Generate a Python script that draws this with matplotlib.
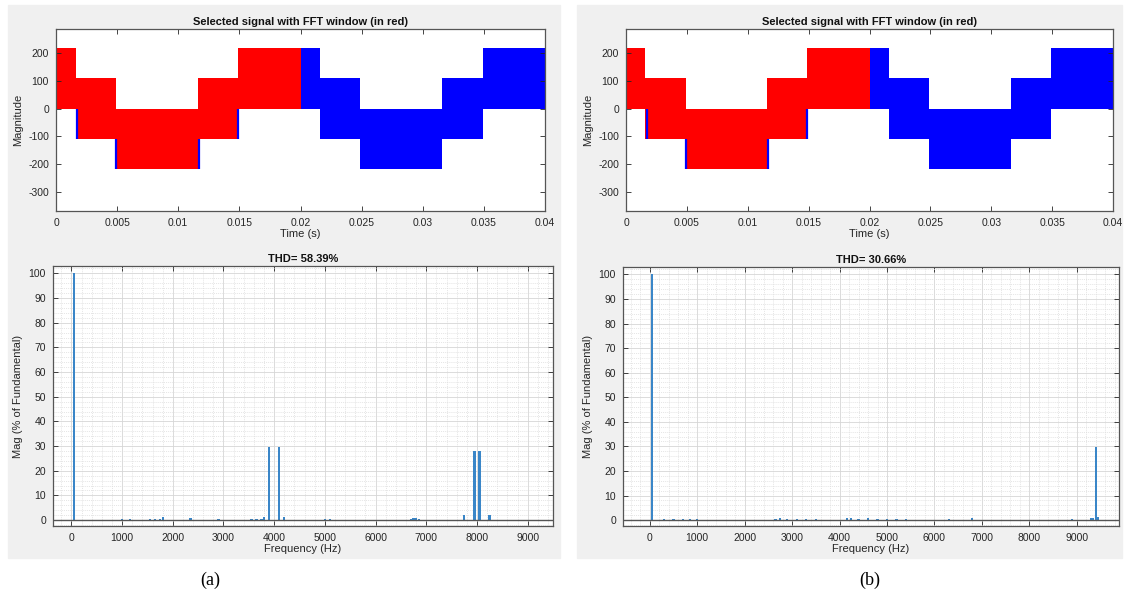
import numpy as np
import matplotlib
matplotlib.use("Agg")
import matplotlib.pyplot as plt
from matplotlib.patches import Rectangle
from matplotlib.ticker import MultipleLocator

plt.rcParams['font.family'] = ['Liberation Sans', 'DejaVu Sans']
plt.rcParams['axes.unicode_minus'] = False

# stepped inverter output (both cases look the same in the time domain)
step_t = [0, 0.0016, 0.0049, 0.0116, 0.0149, 0.02, 0.0216, 0.0249, 0.0316, 0.0349, 0.04]
step_hi = [220, 110, 0, 110, 220, 220, 110, 0, 110, 220]
step_lo = [0, -110, -220, -110, 0, 0, -110, -220, -110, 0]
window_end = 0.02

# little blue slivers visible at the red window transitions
sliver_t = [0.0017, 0.0049, 0.0117, 0.0149]
sliver_lo = [-110, -220, -220, -110]
sliver_hi = [0, -110, -110, 0]

# harmonic spectra (% of fundamental)
freq_a = [50, 1000, 1150, 1550, 1650, 1750, 1800, 2350, 2900, 3550, 3650, 3750, 3800,
          3900, 4100, 4200, 5000, 5100, 6700, 6750, 6800, 6850, 7750, 7950, 8050, 8250]
mag_a = [100, 0.4, 0.4, 0.4, 0.5, 0.5, 1.3, 0.8, 0.3, 0.5, 0.5, 0.6, 1.3,
         29.5, 29.5, 1.3, 0.5, 0.4, 0.6, 0.7, 0.7, 0.6, 2.0, 28.2, 28.2, 2.2]
thd_a = "THD= 58.39%"

freq_b = [50, 300, 500, 700, 850, 1000, 2650, 2750, 2900, 3100, 3300, 3500, 4150, 4250,
          4400, 4600, 4800, 5000, 5200, 5400, 6300, 6800, 8900, 9300, 9350, 9400, 9450]
mag_b = [100, 0.5, 0.5, 0.6, 0.5, 0.4, 0.6, 0.9, 0.6, 0.5, 0.6, 0.5, 1.0, 0.7,
         0.6, 0.7, 0.6, 0.5, 0.5, 0.4, 0.5, 0.9, 0.4, 0.8, 1.0, 29.8, 1.2]
thd_b = "THD= 30.66%"

time_ticks = [0, 0.005, 0.01, 0.015, 0.02, 0.025, 0.03, 0.035, 0.04]
time_labels = ["0", "0.005", "0.01", "0.015", "0.02", "0.025", "0.03", "0.035", "0.04"]

W, H = 1128, 602
fig = plt.figure(figsize=(W / 100, H / 100), dpi=100)
fig.patch.set_facecolor('white')

AX_COL = '#262626'
BAR_COL = '#3a86c8'


def px_axes(l, t, r, b):
    return fig.add_axes([l / W, 1 - b / H, (r - l) / W, (b - t) / H])


def style(ax):
    ax.tick_params(direction='in', top=True, right=True, length=3.5, width=0.6,
                   labelsize=7.5, colors=AX_COL, pad=5)
    for s in ax.spines.values():
        s.set_color('#555555')
        s.set_linewidth(0.9)


def draw_wave(ax):
    t = np.array(step_t)
    hi = np.append(step_hi, step_hi[-1])
    lo = np.append(step_lo, step_lo[-1])
    ax.fill_between(t, lo, hi, step='post', color='#0000ff', lw=0)
    win = t <= window_end
    ax.fill_between(t[win], lo[win], hi[win], step='post', color='#ff0000', lw=0)
    ax.vlines(sliver_t, sliver_lo, sliver_hi, color='#0000ff', lw=1.6)
    ax.set_xlim(0, 0.04)
    ax.set_ylim(-370, 287)
    ax.set_xticks(time_ticks)
    ax.set_xticklabels(time_labels)
    ax.set_yticks([-300, -200, -100, 0, 100, 200])
    ax.set_title("Selected signal with FFT window (in red)", fontsize=8, fontweight='bold',
                 color='#111111', pad=3)
    ax.set_xlabel("Time (s)", fontsize=8, color=AX_COL, labelpad=1)
    ax.set_ylabel("Magnitude", fontsize=8, color=AX_COL, labelpad=4)
    style(ax)


def draw_fft(ax, freq, mag, title, xmin, xmax):
    ax.set_axisbelow(True)
    ax.bar(freq, mag, width=45, color=BAR_COL, lw=0, zorder=3)
    ax.axhline(0, color='#555555', lw=1.0, zorder=4)
    ax.set_xlim(xmin, xmax)
    ax.set_ylim(-2.4, 103)
    ax.set_xticks(range(0, 9001, 1000))
    ax.set_yticks(range(0, 101, 10))
    ax.xaxis.set_minor_locator(MultipleLocator(200))
    ax.yaxis.set_minor_locator(MultipleLocator(2))
    ax.grid(which='major', color='#d6d6d6', lw=0.6)
    ax.grid(which='minor', color='#dcdcdc', lw=0.5, ls=(0, (1.5, 1.5)))
    ax.tick_params(which='minor', length=0)
    ax.set_title(title, fontsize=8, fontweight='bold', color='#111111', pad=3)
    ax.set_xlabel("Frequency (Hz)", fontsize=8, color=AX_COL, labelpad=1)
    ax.set_ylabel("Mag (% of Fundamental)", fontsize=8, color=AX_COL, labelpad=4)
    style(ax)


# gray MATLAB figure backgrounds
for l, r in [(8, 560), (577, 1122)]:
    fig.patches.append(Rectangle((l / W, 1 - 558 / H), (r - l) / W, 553 / H,
                                 transform=fig.transFigure, color='#f0f0f0', zorder=-5))

ax1 = px_axes(56, 29, 545, 211)
draw_wave(ax1)
ax2 = px_axes(53, 266, 553, 526)
draw_fft(ax2, freq_a, mag_a, thd_a, -363, 9500)

ax3 = px_axes(626, 29, 1113, 211)
draw_wave(ax3)
ax4 = px_axes(623, 267, 1119, 526)
draw_fft(ax4, freq_b, mag_b, thd_b, -564, 9890)

fig.text(210 / W, 1 - 580 / H, "(a)", fontsize=13, family=['Liberation Serif'],
         ha='center', va='center')
fig.text(870 / W, 1 - 580 / H, "(b)", fontsize=13, family=['Liberation Serif'],
         ha='center', va='center')

fig.savefig("out.png", dpi=100)
